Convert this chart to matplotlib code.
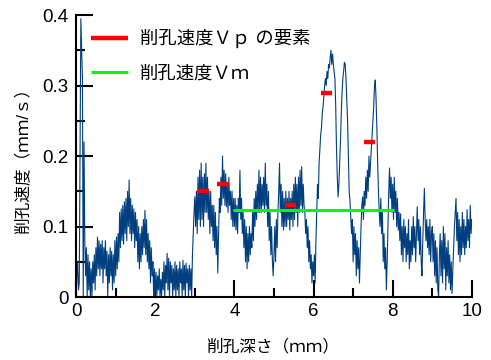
import matplotlib.pyplot as plt
import numpy as np

plt.rcParams['font.family'] = ['Liberation Sans', 'Noto Sans CJK JP']

# 削孔速度 (mm/s), sampled every 0.02 mm of depth
depth_step = 0.02
speed = [
    # 0 - 1 mm
    0.00, 0.03, 0.05, 0.01, 0.02, 0.20, 0.395, 0.35, 0.31, 0.00,
    0.22, 0.08, 0.03, 0.07, 0.00, 0.06, 0.01, 0.05, 0.00, 0.04,
    0.00, 0.05, 0.02, 0.06, 0.01, 0.07, 0.03, 0.085, 0.04, 0.08,
    0.03, 0.075, 0.04, 0.08, 0.02, 0.07, 0.04, 0.08, 0.03, 0.065,
    0.00, 0.06, 0.02, 0.07, 0.03, 0.065, 0.01, 0.06, 0.02, 0.08,
    # 1 - 2 mm
    0.03, 0.085, 0.04, 0.09, 0.05, 0.12, 0.07, 0.125, 0.08, 0.13,
    0.075, 0.135, 0.09, 0.14, 0.08, 0.15, 0.10, 0.166, 0.09, 0.14,
    0.08, 0.13, 0.09, 0.125, 0.07, 0.12, 0.08, 0.11, 0.05, 0.10,
    0.04, 0.09, 0.05, 0.10, 0.06, 0.11, 0.07, 0.123, 0.06, 0.11,
    0.05, 0.09, 0.04, 0.08, 0.02, 0.07, 0.03, 0.05, 0.00, 0.04,
    # 2 - 3 mm
    0.00, 0.035, 0.00, 0.03, 0.01, 0.04, 0.00, 0.025, 0.00, 0.035,
    0.01, 0.05, 0.00, 0.045, 0.02, 0.062, 0.01, 0.055, 0.00, 0.05,
    0.02, 0.045, 0.00, 0.04, 0.01, 0.05, 0.00, 0.045, 0.01, 0.04,
    0.00, 0.05, 0.02, 0.04, 0.00, 0.052, 0.01, 0.045, 0.00, 0.048,
    0.02, 0.04, 0.00, 0.045, 0.01, 0.04, 0.00, 0.06, 0.09, 0.12,
    # 3 - 4 mm
    0.142, 0.10, 0.15, 0.09, 0.17, 0.11, 0.18, 0.10, 0.19, 0.11,
    0.17, 0.10, 0.175, 0.12, 0.19, 0.12, 0.17, 0.11, 0.15, 0.09,
    0.15, 0.10, 0.13, 0.08, 0.13, 0.07, 0.12, 0.06, 0.10, 0.034,
    0.09, 0.14, 0.12, 0.17, 0.13, 0.20, 0.14, 0.18, 0.13, 0.175,
    0.128, 0.16, 0.12, 0.17, 0.13, 0.15, 0.11, 0.15, 0.10, 0.14,
    # 4 - 5 mm
    0.10, 0.14, 0.095, 0.13, 0.09, 0.14, 0.12, 0.18, 0.11, 0.14,
    0.09, 0.12, 0.07, 0.11, 0.05, 0.10, 0.04, 0.09, 0.05, 0.10,
    0.06, 0.09, 0.07, 0.12, 0.08, 0.14, 0.10, 0.15, 0.11, 0.16,
    0.12, 0.18, 0.12, 0.17, 0.12, 0.16, 0.13, 0.17, 0.12, 0.19,
    0.13, 0.16, 0.10, 0.15, 0.08, 0.12, 0.06, 0.10, 0.05, 0.03,
    # 5 - 6 mm
    0.06, 0.10, 0.05, 0.11, 0.07, 0.12, 0.15, 0.19, 0.12, 0.16,
    0.10, 0.15, 0.095, 0.14, 0.10, 0.15, 0.10, 0.14, 0.11, 0.15,
    0.095, 0.14, 0.11, 0.15, 0.10, 0.16, 0.11, 0.17, 0.12, 0.16,
    0.10, 0.17, 0.12, 0.18, 0.13, 0.185, 0.12, 0.16, 0.13, 0.12,
    0.09, 0.11, 0.07, 0.10, 0.05, 0.08, 0.04, 0.06, 0.02, 0.05,
    # 6 - 7 mm
    0.03, 0.06, 0.02, 0.08, 0.12, 0.16, 0.14, 0.19, 0.21, 0.23,
    0.24, 0.26, 0.27, 0.285, 0.30, 0.31, 0.30, 0.32, 0.31, 0.33,
    0.325, 0.34, 0.35, 0.33, 0.345, 0.33, 0.32, 0.31, 0.27, 0.21,
    0.17, 0.142, 0.16, 0.19, 0.22, 0.26, 0.29, 0.31, 0.32, 0.333,
    0.33, 0.31, 0.28, 0.25, 0.20, 0.15, 0.137, 0.114, 0.09, 0.11,
    # 7 - 8 mm
    0.05, 0.10, 0.06, 0.09, 0.03, 0.08, 0.04, 0.07, 0.02, 0.06,
    0.10, 0.13, 0.142, 0.11, 0.15, 0.13, 0.17, 0.14, 0.18, 0.15,
    0.20, 0.17, 0.19, 0.21, 0.23, 0.25, 0.27, 0.30, 0.308, 0.28,
    0.24, 0.19, 0.15, 0.12, 0.10, 0.14, 0.09, 0.12, 0.05, 0.09,
    0.04, 0.07, 0.01, 0.05, 0.10, 0.15, 0.183, 0.14, 0.17, 0.12,
    # 8 - 9 mm
    0.16, 0.11, 0.17, 0.12, 0.15, 0.10, 0.14, 0.095, 0.12, 0.08,
    0.118, 0.06, 0.10, 0.05, 0.11, 0.07, 0.10, 0.05, 0.09, 0.06,
    0.11, 0.04, 0.08, 0.05, 0.10, 0.06, 0.114, 0.07, 0.10, 0.05,
    0.09, 0.128, 0.08, 0.11, 0.06, 0.10, 0.05, 0.03, 0.08, 0.12,
    0.154, 0.11, 0.08, 0.11, 0.07, 0.10, 0.06, 0.11, 0.05, 0.09,
    # 9 - 10 mm
    0.10, 0.05, 0.09, 0.03, 0.08, 0.02, 0.07, 0.01, 0.00, 0.06,
    0.09, 0.03, 0.08, 0.02, 0.10, 0.04, 0.09, 0.01, 0.07, 0.03,
    0.08, 0.02, 0.06, 0.01, 0.05, 0.005, 0.04, 0.07, 0.10, 0.12,
    0.14, 0.08, 0.12, 0.06, 0.11, 0.05, 0.10, 0.06, 0.12, 0.07,
    0.11, 0.06, 0.10, 0.07, 0.124, 0.08, 0.11, 0.07, 0.13, 0.09,
    0.11,
]
depth = np.arange(len(speed)) * depth_step

# 削孔速度Vpの要素 (red segments)
vp_start = [3.06, 3.57, 5.28, 6.18, 7.27]
vp_end = [3.36, 3.86, 5.55, 6.46, 7.56]
vp_value = [0.15, 0.16, 0.13, 0.29, 0.22]

# 削孔速度Vm (green segment)
vm_start = [3.97]
vm_end = [8.04]
vm_value = [0.123]

fig = plt.figure(figsize=(4.91, 3.6), dpi=100)
ax = fig.add_axes([0.155, 0.175, 0.806, 0.783])

ax.plot(depth, speed, color='#003f7f', lw=0.8, zorder=2)
ax.hlines(vp_value, vp_start, vp_end, colors='#ff0000', lw=3.2,
          label='削孔速度Ｖｐ の要素', zorder=3)
ax.hlines(vm_value, vm_start, vm_end, colors='#00ff00', lw=2.2,
          label='削孔速度Ｖｍ', zorder=3)

ax.set_xlim(0, 10)
ax.set_ylim(0, 0.4)
ax.set_xticks([0, 2, 4, 6, 8, 10])
ax.set_xticks([1, 3, 5, 7, 9], minor=True)
ax.set_yticks([0, 0.1, 0.2, 0.3, 0.4])
ax.set_yticklabels(['0', '0.1', '0.2', '0.3', '0.4'])
ax.set_yticks([0.05, 0.15, 0.25, 0.35], minor=True)
ax.tick_params(which='both', direction='in', width=1.5, labelsize=13.5)
ax.tick_params(which='major', length=12.5)
ax.tick_params(which='minor', length=6.5)
ax.tick_params(axis='x', pad=4)
ax.tick_params(axis='y', pad=5.5)

for s in ['top', 'right']:
    ax.spines[s].set_visible(False)
for s in ['left', 'bottom']:
    ax.spines[s].set_linewidth(1.5)

ax.set_xlabel('削孔深さ（ｍｍ）', fontsize=12, labelpad=14)
ax.set_ylabel('削孔速度（ｍｍ/ｓ）', fontsize=12, labelpad=8)

ax.legend(loc='upper left', bbox_to_anchor=(0.038, 0.95), frameon=False,
          fontsize=13.2, handlelength=2.0, handletextpad=0.65,
          labelspacing=0.93, borderpad=0, borderaxespad=0)

fig.savefig('out.png', dpi=100)
